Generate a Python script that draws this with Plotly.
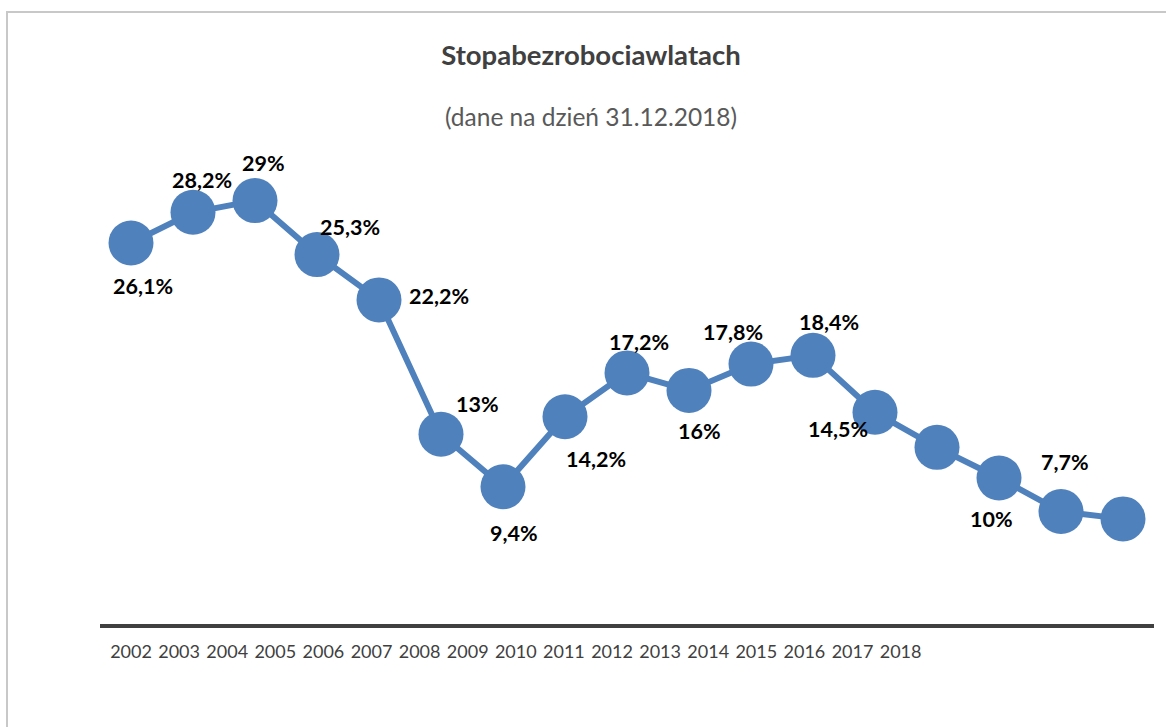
import plotly.graph_objects as go

# ---- data ----
years = ["2002", "2003", "2004", "2005", "2006", "2007", "2008", "2009", "2010",
         "2011", "2012", "2013", "2014", "2015", "2016", "2017", "2018"]
rates = [26.1, 28.2, 29.0, 25.3, 22.2, 13.0, 9.4, 14.2, 17.2, 16.0, 17.8, 18.4,
         14.5, 12.1, 10.0, 7.7, 7.2]
labels = ["26,1%", "28,2%", "29%", "25,3%", "22,2%", "13%", "9,4%", "14,2%", "17,2%",
          "16%", "17,8%", "18,4%", "14,5%", "", "10%", "7,7%", ""]
title_text = "Stopabezrobociawlatach"
subtitle_text = "(dane na dzień 31.12.2018)"

# ---- label placement (pixel offsets from each point) ----
label_offsets = [(12, -43), (9, 32), (8, 38), (33, 28), (60, 4), (36, 30), (11, -46),
                 (31, -42), (12, 31), (10, -41), (-18, 32), (16, 33), (-37, -17),
                 (0, 0), (-8, -41), (4, 50), (0, 0)]

W, H = 1166, 727
ML, MR, MT, MB = 100, 12, 113, 103
PW = W - ML - MR
PH = H - MT - MB

BLUE = "#4F81BD"
FONT = "Lato"

idx = list(range(len(years)))

fig = go.Figure()
fig.add_trace(go.Scatter(
    x=idx, y=rates, mode="lines+markers",
    line=dict(color=BLUE, width=6),
    marker=dict(color=BLUE, size=45, line=dict(width=0)),
    hoverinfo="skip", showlegend=False,
))
# invisible trace to carry the year tick axis
fig.add_trace(go.Scatter(
    x=idx, y=[None] * len(idx), xaxis="x2", mode="markers",
    marker=dict(opacity=0), hoverinfo="skip", showlegend=False,
))

annotations = []
for i, (v, t) in enumerate(zip(rates, labels)):
    if not t:
        continue
    dx, dy = label_offsets[i]
    annotations.append(dict(
        x=i, y=v, xref="x", yref="y", text=t, showarrow=False,
        xshift=dx, yshift=dy,
        font=dict(family=FONT, size=21.5, color="#000000", weight="bold"),
    ))

annotations.append(dict(
    x=(591 - ML) / PW, y=(H - MB - 116) / PH, xref="paper", yref="paper",
    text=subtitle_text, showarrow=False, xanchor="center", yanchor="middle",
    font=dict(family=FONT, size=24.5, color="#595959"),
))

# tick axis geometry: label "2002" centred at px 131, spacing 48.1 px
px_per_unit = 48.1
r0 = (ML - 131) / px_per_unit
r1 = r0 + PW / px_per_unit

fig.update_layout(
    width=W, height=H,
    margin=dict(l=ML, r=MR, t=MT, b=MB, pad=0),
    paper_bgcolor="white", plot_bgcolor="white",
    title=dict(text=title_text, x=591 / W, xanchor="center", y=1 - 55 / H,
               yanchor="middle", xref="container", yref="container",
               font=dict(family=FONT, size=27.5, color="#404040", weight="bold")),
    xaxis=dict(range=[-0.5, len(years) - 0.5], showline=True, linecolor="#404040",
               linewidth=4, showgrid=False, zeroline=False, showticklabels=False,
               ticks="", fixedrange=True),
    xaxis2=dict(overlaying="x", anchor="y", side="bottom", range=[r0, r1],
                tickmode="array", tickvals=idx, ticktext=years, showline=False,
                showgrid=False, zeroline=False, ticks="",
                tickfont=dict(family=FONT, size=18, color="#404040"),
                ticklabelstandoff=15),
    yaxis=dict(range=[0, 35], visible=False, showgrid=False, zeroline=False,
               fixedrange=True),
    annotations=annotations,
    shapes=[dict(type="rect", xref="paper", yref="paper",
                 x0=(7 - ML) / PW, x1=(W + 30 - ML) / PW,
                 y0=(H - MB - (H + 30)) / PH, y1=(H - MB - 12) / PH,
                 line=dict(color="#c8c8c8", width=2), fillcolor="rgba(0,0,0,0)",
                 layer="below")],
    font=dict(family=FONT),
)

fig.write_html("out.html", config={"displayModeBar": False},
               post_script="document.body.style.margin='0';document.body.style.overflow='hidden';")
